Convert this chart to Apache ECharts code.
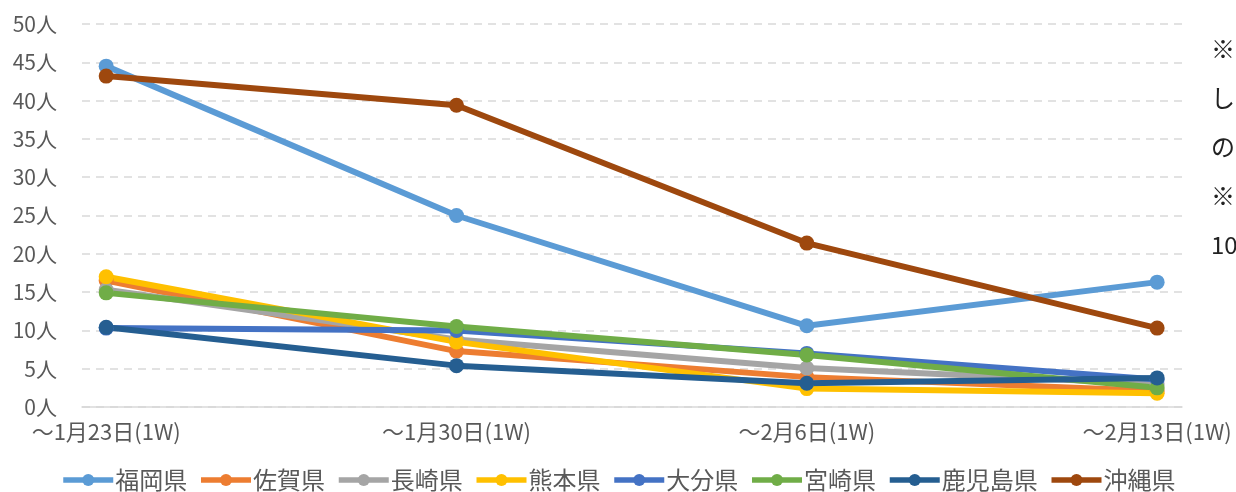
<!DOCTYPE html>
<html>
<head>
<meta charset="utf-8">
<script src="https://cdn.jsdelivr.net/npm/echarts@6/dist/echarts.min.js"></script>
<style>
  html, body { margin: 0; padding: 0; background: #fff; }
  #main { width: 1236px; height: 492px; }
</style>
</head>
<body>
<div id="main"></div>
<script>
const categories = ['～1月23日(1W)', '～1月30日(1W)', '～2月6日(1W)', '～2月13日(1W)'];
const yTicks = [0, 5, 10, 15, 20, 25, 30, 35, 40, 45, 50];

const fukuoka = [44.5, 25.0, 10.6, 16.3];
const saga = [16.5, 7.3, 3.9, 2.1];
const nagasaki = [15.3, 8.8, 5.1, 3.0];
const kumamoto = [17.0, 8.5, 2.4, 1.8];
const oita = [10.3, 10.0, 7.0, 3.6];
const miyazaki = [14.9, 10.5, 6.8, 2.5];
const kagoshima = [10.4, 5.4, 3.1, 3.8];
const okinawa = [43.2, 39.4, 21.4, 10.3];

const seriesNames = ['福岡県', '佐賀県', '長崎県', '熊本県', '大分県', '宮崎県', '鹿児島県', '沖縄県'];
const seriesValues = [fukuoka, saga, nagasaki, kumamoto, oita, miyazaki, kagoshima, okinawa];
const colors = ['#5B9BD5', '#ED7D31', '#A5A5A5', '#FFC000', '#4472C4', '#70AD47', '#255E91', '#9E480E'];

// 右側の注記（画像の端で切れている）
const noteLines = ['※', 'し', 'の', '※', '10'];

const FONT = '"Noto Sans CJK JP", "Noto Sans", sans-serif';

const chart = echarts.init(document.getElementById('main'), null, { renderer: 'canvas' });

var series = seriesNames.map((name, i) => {
  return {
    name: name,
    type: 'line',
    data: seriesValues[i].map((v, j) => [j, v]),
    symbol: 'circle',
    symbolSize: 15,
    lineStyle: { width: 6, color: colors[i] },
    itemStyle: { color: colors[i] },
    emphasis: { disabled: true },
    animation: false
  }
})

var option = {
  color: colors,
  grid: {
    left: 82,
    right: 54,
    top: 24,
    bottom: 85,
    containLabel: false
  },
  xAxis: {
    type: 'value',
    min: -0.069,
    max: 3.071,
    axisLine: { show: true, lineStyle: { color: '#D9D9D9', width: 1.5 } },
    axisTick: { show: false },
    splitLine: { show: false },
    axisLabel: {
      customValues: [0, 1, 2, 3],
      formatter: (v) => categories[Math.round(v)],
      color: '#595959',
      fontSize: 22,
      fontFamily: FONT,
      margin: 14
    }
  },
  yAxis: {
    type: 'value',
    min: 0,
    max: 50,
    interval: 5,
    axisLine: { show: false },
    axisTick: { show: false },
    splitLine: {
      show: true,
      lineStyle: { color: '#D9D9D9', width: 1.5, type: [8, 6] }
    },
    axisLabel: {
      formatter: (v) => yTicks.indexOf(v) >= 0 ? v + '人' : '',
      color: '#595959',
      fontSize: 21,
      fontFamily: FONT,
      margin: 25
    }
  },
  legend: {
    top: 463,
    left: 'center',
    itemWidth: 50,
    itemHeight: 15,
    itemGap: 11,
    lineStyle: { width: 5.5 },
    textStyle: { color: '#595959', fontSize: 24, fontFamily: FONT, padding: [0, 0, 0, -3] },
    data: seriesNames
  },
  graphic: noteLines.map((t, i) => ({
    type: 'text',
    left: 1211,
    top: 37 + i * 49,
    silent: true,
    style: { text: t, fill: '#222', fontSize: 24, fontFamily: FONT }
  })),
  series: series
}

chart.setOption(option)
</script>
</body>
</html>
